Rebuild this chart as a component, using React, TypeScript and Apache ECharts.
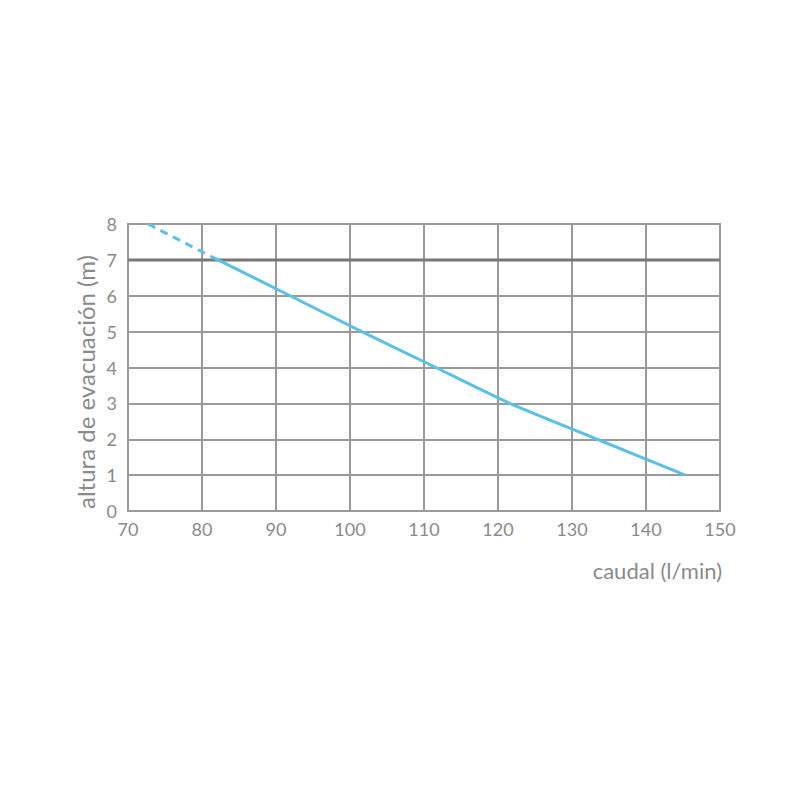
import React, { useEffect, useRef } from "react";
import * as echarts from "echarts";

const xTicks = [70, 80, 90, 100, 110, 120, 130, 140, 150];
const yTicks = [0, 1, 2, 3, 4, 5, 6, 7, 8];
const dashedCurve: [number, number][] = [
  [72.7, 8],
  [81.2, 7.1],
];
const solidCurve: [number, number][] = [
  [81.2, 7.1],
  [91.9, 6],
  [101.6, 5],
  [111.6, 4],
  [121.6, 3],
  [133.4, 2],
  [145.3, 1],
];
const limitLevel = 7;
const xName = "caudal (l/min)";
const yName = "altura de evacuación (m)";

const FONT = "Lato";

export default function App() {
  const ref = useRef<HTMLDivElement>(null);
  useEffect(() => {
    const chart = echarts.init(ref.current!, null, { renderer: "svg" });
    chart.setOption({
      animation: false,
      backgroundColor: "#ffffff",
      grid: { left: 128, right: 80, top: 224, bottom: 289, containLabel: false },
      xAxis: {
        type: "value",
        min: xTicks[0],
        max: xTicks[xTicks.length - 1],
        interval: 10,
        axisLine: { show: true, lineStyle: { color: "#999", width: 2 } },
        axisTick: { show: false },
        axisLabel: { color: "#8a8a8a", fontSize: 18, fontFamily: FONT, margin: 9 },
        splitLine: { show: true, lineStyle: { color: "#9a9a9a", width: 2 } },
      },
      yAxis: {
        type: "value",
        min: yTicks[0],
        max: yTicks[yTicks.length - 1],
        interval: 1,
        axisLine: { show: true, lineStyle: { color: "#999", width: 2 } },
        axisTick: { show: false },
        axisLabel: { color: "#8a8a8a", fontSize: 18, fontFamily: FONT, margin: 11 },
        splitLine: { show: true, lineStyle: { color: "#9a9a9a", width: 2 } },
      },
      graphic: [
        {
          type: "text",
          right: 78,
          top: 559,
          style: { text: xName, fill: "#8a8a8a", fontSize: 22, fontFamily: FONT },
        },
        {
          type: "text",
          x: 85,
          y: 382,
          rotation: Math.PI / 2,
          style: {
            text: yName,
            fill: "#8a8a8a",
            fontSize: 24,
            fontFamily: FONT,
            align: "center",
            verticalAlign: "middle",
          },
        },
        {
          type: "rect",
          shape: { x: 128, y: 224, width: 592, height: 287 },
          style: { fill: "none", stroke: "#9a9a9a", lineWidth: 2 },
          z: 1,
        },
      ],
      series: [
        {
          type: "line",
          data: [
            [xTicks[0], limitLevel],
            [xTicks[xTicks.length - 1], limitLevel],
          ],
          symbol: "none",
          lineStyle: { color: "#777", width: 3 },
          z: 2,
        },
        {
          type: "line",
          data: dashedCurve,
          symbol: "none",
          lineStyle: { color: "#5bbfe6", width: 3, type: [8, 6] },
          z: 3,
        },
        {
          type: "line",
          data: solidCurve,
          symbol: "none",
          smooth: 0.2,
          lineStyle: { color: "#5bbfe6", width: 3 },
          z: 3,
        },
      ],
    });
    return () => chart.dispose();
  }, []);
  return <div ref={ref} style={{ width: 800, height: 800, margin: -8 }} />;
}
